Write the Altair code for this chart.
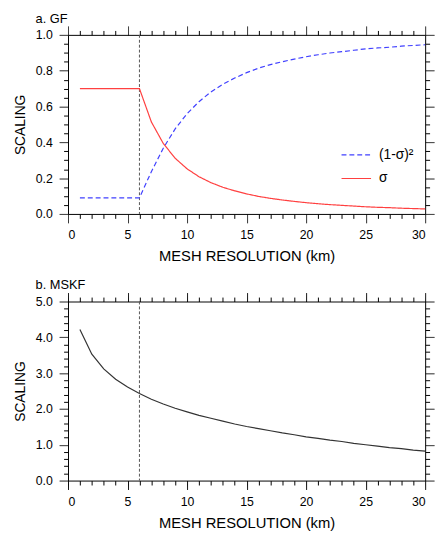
import altair as alt
import pandas as pd

# ---------------- data ----------------
x_km = list(range(1, 31))
sigma = [0.70, 0.70, 0.70, 0.70, 0.70, 0.70,
         0.514, 0.394, 0.311, 0.252, 0.208, 0.175, 0.149, 0.129, 0.112, 0.098,
         0.087, 0.078, 0.070, 0.063, 0.057, 0.052, 0.048, 0.044, 0.040, 0.037,
         0.035, 0.032, 0.030, 0.028]
one_minus_sigma_sq = [0.09, 0.09, 0.09, 0.09, 0.09, 0.09,
                      0.236, 0.367, 0.475, 0.560, 0.627, 0.681, 0.724, 0.759, 0.789,
                      0.814, 0.834, 0.850, 0.865, 0.878, 0.889, 0.899, 0.906, 0.914,
                      0.922, 0.927, 0.931, 0.937, 0.941, 0.945]
mskf = [4.22, 3.53, 3.12, 2.83, 2.61, 2.43, 2.27, 2.14, 2.02, 1.92, 1.82, 1.74,
        1.66, 1.58, 1.51, 1.45, 1.39, 1.33, 1.28, 1.22, 1.18, 1.13, 1.09, 1.04,
        1.00, 0.96, 0.92, 0.89, 0.85, 0.82]
series_names = ["(1-σ)²", "σ"]
switch_km = [6]
x_ticks = list(range(0, 31))
ya_ticks = [round(i * 0.05, 2) for i in range(21)]
yb_ticks = [round(i * 0.2, 1) for i in range(26)]

FONT = "Liberation Sans"
W, H = 363, 182
MAJOR, MINOR = 9, 4.5

df_a = pd.DataFrame({
    "km": x_km * 2,
    "value": one_minus_sigma_sq + sigma,
    "series": [series_names[0]] * 30 + [series_names[1]] * 30,
})
df_b = pd.DataFrame({"km": x_km, "value": mskf})
df_rule = pd.DataFrame({"km": switch_km})

x_scale = alt.Scale(domain=[0, 30], nice=False, zero=False)

X_MAJOR = "datum.value % 5 === 0"
YA_MAJOR = "abs(round(datum.value * 100)) % 20 === 0"
YB_MAJOR = "abs(round(datum.value * 10)) % 10 === 0"

common_axis = dict(
    grid=False, domainColor="black", domainWidth=1, tickColor="black",
    tickWidth=1, labelFont=FONT, labelFontSize=12.5, labelColor="black",
    titleFont=FONT, titleFontWeight="normal", titleColor="black",
    labelOverlap=False, tickSize=MAJOR,
)


def axis(orient, values, test, labels=False, title=None, fmt_expr=None):
    # all ticks are MAJOR long; minor ones are cut to MINOR with a dash pattern
    dash = {"condition": {"test": test, "value": [1, 0]}, "value": [MINOR, 30]}
    kw = dict(common_axis)
    if labels:
        kw.update(title=title, labelExpr=f"({test}) ? {fmt_expr} : ''")
        if orient == "bottom":
            kw.update(titleFontSize=15, labelPadding=6, titlePadding=8)
        else:
            kw.update(titleFontSize=14, labelPadding=7, titlePadding=8)
    else:
        kw.update(title=None, labels=False)
    return alt.Axis(orient=orient, values=values, tickDash=dash, **kw)


def frame_layers(df, y_scale, y_ticks, y_test):
    mirror = alt.Chart(df).mark_point(opacity=0).encode(
        x=alt.X("km:Q", scale=x_scale, axis=axis("top", x_ticks, X_MAJOR)),
        y=alt.Y("value:Q", scale=y_scale, axis=axis("right", y_ticks, y_test)),
    )
    main = alt.Chart(df).mark_point(opacity=0).encode(
        x=alt.X("km:Q", scale=x_scale,
                axis=axis("bottom", x_ticks, X_MAJOR, True, "MESH RESOLUTION (km)", "datum.label")),
        y=alt.Y("value:Q", scale=y_scale,
                axis=axis("left", y_ticks, y_test, True, "SCALING", "format(datum.value, '.1f')")),
    )
    return [mirror, main]


def panel_title(text):
    return alt.Title(text, anchor="start", frame="group", dx=-33, fontSize=13,
                     font=FONT, fontWeight="normal", color="black", offset=0)


def rule():
    return alt.Chart(df_rule).mark_rule(color="#555555", strokeDash=[3, 2], strokeWidth=1).encode(
        x=alt.X("km:Q", scale=x_scale, axis=None))


# ---------------- panel a ----------------
ya_scale = alt.Scale(domain=[0, 1], nice=False)
legend_kw = dict(orient="none", legendX=277, legendY=106, title=None,
                 symbolType="stroke", symbolSize=900, symbolStrokeWidth=1.2,
                 labelFont=FONT, labelFontSize=14, labelColor="black",
                 padding=0, rowPadding=1, labelOffset=7)
lines_a = alt.Chart(df_a).mark_line(strokeWidth=1.2).encode(
    x=alt.X("km:Q", scale=x_scale, axis=None),
    y=alt.Y("value:Q", scale=ya_scale, axis=None),
    color=alt.Color("series:N", scale=alt.Scale(domain=series_names, range=["#4040ff", "#ff4040"]),
                    legend=alt.Legend(**legend_kw)),
    strokeDash=alt.StrokeDash("series:N", scale=alt.Scale(domain=series_names, range=[[5, 3], [1, 0]]),
                              legend=alt.Legend(**legend_kw)),
)
panel_a = alt.layer(*frame_layers(df_a, ya_scale, ya_ticks, YA_MAJOR), rule(), lines_a).resolve_axis(
    x="independent", y="independent").properties(
    width=W, height=H, title=panel_title("a. GF"))

# ---------------- panel b ----------------
yb_scale = alt.Scale(domain=[0, 5], nice=False)
line_b = alt.Chart(df_b).mark_line(color="#333333", strokeWidth=1.2).encode(
    x=alt.X("km:Q", scale=x_scale, axis=None),
    y=alt.Y("value:Q", scale=yb_scale, axis=None),
)
panel_b = alt.layer(*frame_layers(df_b, yb_scale, yb_ticks, YB_MAJOR), rule(), line_b).resolve_axis(
    x="independent", y="independent").properties(
    width=W, height=H, title=panel_title("b. MSKF"))

chart = alt.vconcat(panel_a, panel_b, spacing=15).properties(
    padding={"left": 5, "top": 0, "right": 0, "bottom": 0}
).configure(font=FONT).configure_view(stroke=None)

chart.save("out.html", embed_options={"renderer": "svg", "actions": False})
